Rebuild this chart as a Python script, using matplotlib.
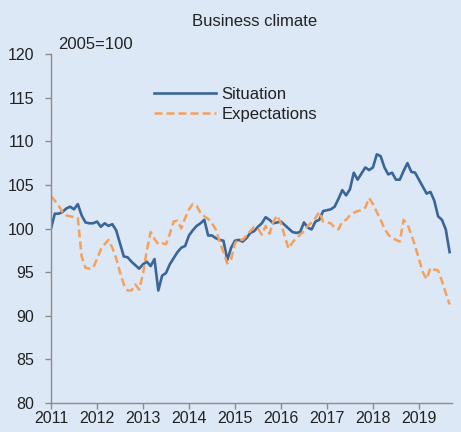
import matplotlib
matplotlib.use("Agg")
import matplotlib.pyplot as plt
import numpy as np

plt.rcParams['font.family'] = ['Liberation Sans', 'DejaVu Sans']

start_year = 2011
situation = [
    100.0, 101.7, 101.7, 101.9, 102.3, 102.5, 102.2, 102.8, 101.5, 100.7, 100.6, 100.6,  # 2011
    100.8, 100.2, 100.6, 100.3, 100.5, 99.8, 98.3, 96.8, 96.7, 96.2, 95.8, 95.4,        # 2012
    95.9, 96.2, 95.7, 96.5, 92.9, 94.6, 94.9, 95.9, 96.6, 97.3, 97.8, 98.0,              # 2013
    99.2, 99.8, 100.3, 100.6, 101.0, 99.2, 99.2, 98.9, 98.7, 98.6, 96.4, 97.8,          # 2014
    98.6, 98.7, 98.5, 98.9, 99.5, 99.7, 100.2, 100.6, 101.3, 101.0, 100.6, 100.7,       # 2015
    100.8, 100.4, 100.0, 99.6, 99.5, 99.6, 100.7, 100.1, 99.9, 100.8, 101.0, 102.0,     # 2016
    102.1, 102.2, 102.5, 103.4, 104.4, 103.8, 104.5, 106.4, 105.6, 106.3, 107.0, 106.7, # 2017
    107.0, 108.5, 108.3, 107.0, 106.2, 106.4, 105.6, 105.6, 106.6, 107.5, 106.5, 106.4, # 2018
    105.6, 104.8, 104.0, 104.2, 103.2, 101.4, 101.0, 99.9, 97.3,                        # 2019
]
expectations = [
    103.7, 103.2, 102.6, 101.9, 101.5, 101.4, 101.3, 101.2, 96.8, 95.5, 95.4, 95.5,     # 2011
    96.5, 97.6, 98.2, 98.7, 97.8, 96.6, 95.0, 93.6, 92.9, 92.9, 93.6, 93.0,             # 2012
    94.8, 97.5, 99.6, 98.8, 98.2, 98.3, 98.2, 99.4, 100.8, 100.9, 100.0, 101.2,         # 2013
    102.2, 102.8, 102.6, 101.8, 101.4, 101.1, 100.6, 99.9, 98.5, 97.3, 96.0, 96.5,      # 2014
    98.3, 98.8, 98.7, 99.2, 99.7, 100.2, 100.0, 99.3, 100.3, 99.4, 100.8, 101.5,        # 2015
    100.6, 99.1, 97.7, 98.4, 98.9, 99.3, 99.7, 100.3, 100.7, 101.2, 101.9, 100.8,       # 2016
    100.7, 100.6, 100.1, 99.9, 100.8, 101.0, 101.5, 101.8, 102.0, 102.1, 102.4, 103.5,  # 2017
    102.8, 101.9, 101.0, 100.0, 99.3, 98.9, 98.7, 98.5, 101.0, 100.5, 99.3, 98.0,       # 2018
    96.5, 95.0, 94.2, 95.5, 95.3, 95.2, 94.0, 92.6, 91.3,                               # 2019
]
years = list(range(2011, 2020))
yticks = [80, 85, 90, 95, 100, 105, 110, 115, 120]

t = start_year + np.arange(len(situation)) / 12.0

bg = '#dce8f6'
fig = plt.figure(figsize=(4.61, 4.32), dpi=100, facecolor=bg)
ax = fig.add_axes([0.1106, 0.067, 0.87, 0.808], facecolor=bg)

ax.plot(t, situation, color='#3a6598', lw=1.9, label='Situation', solid_joinstyle='round')
ax.plot(t, expectations, color='#f7a05a', lw=1.8, ls=(0, (3.2, 1.6)), label='Expectations')

ax.set_xlim(2011, 2019.72)
ax.set_ylim(80, 120)
ax.set_yticks(yticks)
ax.set_xticks(years)
ax.set_xticklabels([str(y) for y in years])

for s in ['top', 'right']:
    ax.spines[s].set_visible(False)
for s in ['left', 'bottom']:
    ax.spines[s].set_color('#8c8c8c')
    ax.spines[s].set_linewidth(1.0)
ax.tick_params(axis='both', colors='#8c8c8c', labelcolor='#222222', labelsize=11.5, length=4, width=1)
ax.tick_params(axis='y', pad=8)
ax.tick_params(axis='x', pad=2)

fig.text(0.553, 0.951, 'Business climate', ha='center', va='center', fontsize=12, color='#222222')
fig.text(0.125, 0.896, '2005=100', ha='left', va='center', fontsize=12, color='#222222')

leg = ax.legend(loc='upper left', bbox_to_anchor=(0.24, 0.925), frameon=False, fontsize=12,
                handlelength=3.7, handletextpad=0.36, labelspacing=0.3, borderaxespad=0)
for txt in leg.get_texts():
    txt.set_color('#222222')

fig.savefig('out.png', dpi=100, facecolor=bg)
